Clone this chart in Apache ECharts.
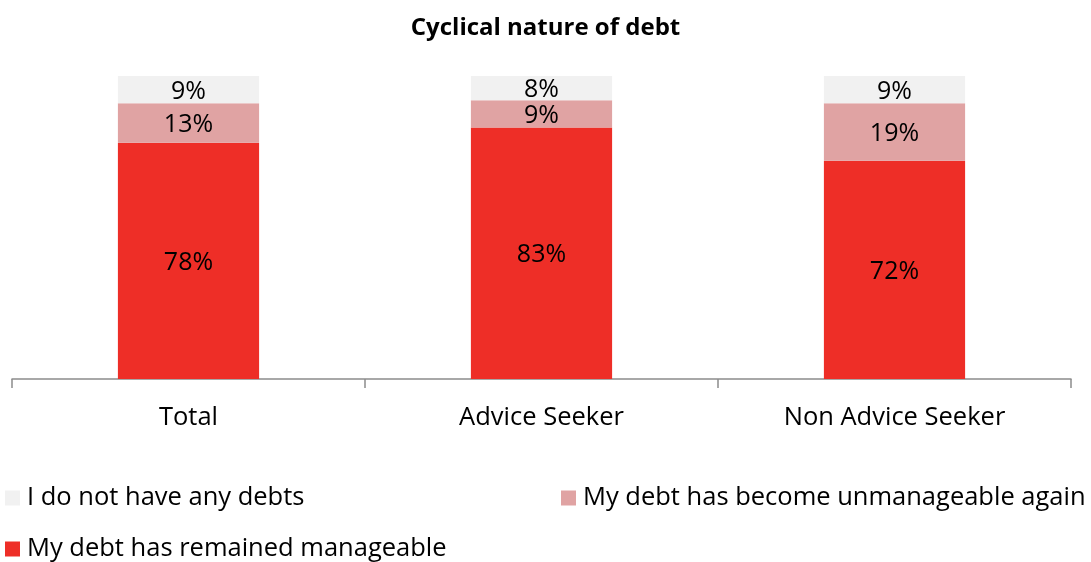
<!DOCTYPE html>
<html>
<head>
<meta charset="utf-8">
<script src="https://cdn.jsdelivr.net/npm/echarts@6/dist/echarts.min.js"></script>
<style>
  html, body { margin: 0; padding: 0; background: #fff; }
  #chart { width: 1091px; height: 562px; }
</style>
</head>
<body>
<div id="chart"></div>
<script>
// data
let categories = ['Total', 'Advice Seeker', 'Non Advice Seeker'];
let manageable = [78, 83, 72];
let unmanageable = [13, 9, 19];
let noDebts = [9, 8, 9];

let font = '"Open Sans", sans-serif';

let myChart = echarts.init(document.getElementById('chart'));

function legendAt(name, left, top) {
    return {
        data: [name],
        left: left,
        top: top,
        padding: 0,
        itemWidth: 15,
        itemHeight: 15,
        icon: 'rect',
        selectedMode: false,
        textStyle: { fontFamily: font, fontSize: 25.5, color: '#000', padding: [0, 0, 0, 2] }
    };
}

let label = {
    show: true,
    position: 'inside',
    formatter: '{c}%',
    offset: [0, 2],
    fontFamily: font,
    fontSize: 25,
    color: '#000'
};

let option = {
    animation: false,
    title: {
        text: 'Cyclical nature of debt',
        left: 'center',
        top: 11,
        textStyle: { fontFamily: font, fontSize: 24, fontWeight: 'bold', color: '#000' }
    },
    legend: [
        legendAt('I do not have any debts', 5, 485),
        legendAt('My debt has become unmanageable again', 561, 485),
        legendAt('My debt has remained manageable', 5, 536)
    ],
    grid: { left: 12, right: 20, top: 76, bottom: 183 },
    xAxis: {
        type: 'category',
        data: categories,
        axisLine: { show: true, lineStyle: { color: '#8c8c8c', width: 1.5 } },
        axisTick: { show: true, alignWithLabel: false, length: 9, lineStyle: { color: '#8c8c8c', width: 1.5 } },
        axisLabel: { margin: 26, fontFamily: font, fontSize: 25.5, color: '#000' }
    },
    yAxis: {
        type: 'value',
        min: 0,
        max: 100,
        show: false
    },
    series: [
        {
            name: 'My debt has remained manageable',
            type: 'bar',
            stack: 'debt',
            barWidth: '40%',
            data: manageable,
            itemStyle: { color: '#ee2e27' },
            label: label
        },
        {
            name: 'My debt has become unmanageable again',
            type: 'bar',
            stack: 'debt',
            data: unmanageable,
            itemStyle: { color: '#e0a3a3' },
            label: label
        },
        {
            name: 'I do not have any debts',
            type: 'bar',
            stack: 'debt',
            data: noDebts,
            itemStyle: { color: '#f1f1f1' },
            label: label
        }
    ]
};

myChart.setOption(option);
</script>
</body>
</html>
